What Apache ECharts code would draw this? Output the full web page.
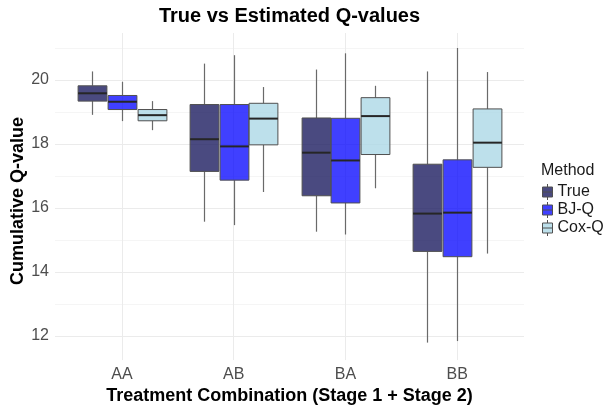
<!DOCTYPE html>
<html>
<head>
<meta charset="utf-8">
<title>True vs Estimated Q-values</title>
<script src="https://cdn.jsdelivr.net/npm/echarts@6/dist/echarts.min.js"></script>
<style>
  html, body { margin: 0; padding: 0; background: #fff; }
  #chart { width: 605px; height: 410px; }
</style>
</head>
<body>
<div id="chart"></div>
<script>
// data: [lower whisker, Q1, median, Q3, upper whisker] per treatment combination
const categories = ['AA', 'AB', 'BA', 'BB'];
const methods = ['True', 'BJ-Q', 'Cox-Q'];
const trueQ = [
  [18.85, 19.29, 19.54, 19.78, 20.24],
  [15.43, 17.04, 18.07, 19.18, 20.49],
  [15.11, 16.26, 17.64, 18.75, 20.30],
  [11.56, 14.48, 15.69, 17.27, 20.24]
];
const bjQ = [
  [18.65, 19.02, 19.27, 19.47, 19.91],
  [15.32, 16.76, 17.84, 19.18, 20.76],
  [15.02, 16.03, 17.39, 18.74, 20.82],
  [11.61, 14.31, 15.72, 17.41, 20.99]
];
const coxQ = [
  [18.36, 18.66, 18.84, 19.02, 19.29],
  [16.38, 17.89, 18.73, 19.22, 19.74],
  [16.50, 17.58, 18.81, 19.40, 19.78],
  [14.41, 17.17, 17.96, 19.04, 20.22]
];
const yLabels = [12, 14, 16, 18, 20];

const FONT = '"Liberation Sans", Arial, Helvetica, sans-serif';
const fills = ['rgba(29,29,96,0.8)', 'rgba(0,0,255,0.75)', 'rgba(173,216,230,0.8)'];

// little boxplot glyph for the legend keys (whisker stub, box, median, stub)
const keyIcon = 'path://M5,0L5,3M0,3L10,3L10,13L0,13ZM0,8L10,8M5,13L5,16';

const chart = echarts.init(document.getElementById('chart'));

function boxSeries(name, stats, idx) {
  return {
    name: name,
    type: 'custom',
    xAxisIndex: 1,
    yAxisIndex: 1,
    itemStyle: { color: fills[idx] },
    encode: { x: 0, y: [1, 2, 3, 4, 5] },
    data: stats.map((s, i) => [i].concat(s)),
    renderItem: function (params, api) {
      const band = api.size([1, 0])[0];
      const w = band * 0.8 / 3;          // dodge width of one box
      const cat = api.value(0);
      const cx = Math.round(api.coord([cat, 0])[0] + (idx - 1) * w) + 0.5;
      const hw = w / 2 - 0.5;
      const y = k => api.coord([cat, api.value(k)])[1];
      const lo = y(1), q1 = y(2), med = y(3), q3 = y(4), hi = y(5);
      const whisker = { stroke: '#6a6a6a', lineWidth: 1.2 };
      return {
        type: 'group',
        children: [
          { type: 'line', shape: { x1: cx, y1: hi, x2: cx, y2: q3 }, style: whisker },
          { type: 'line', shape: { x1: cx, y1: q1, x2: cx, y2: lo }, style: whisker },
          { type: 'rect', shape: { x: cx - hw, y: q3, width: hw * 2, height: q1 - q3 },
            style: { fill: fills[idx], stroke: '#505050', lineWidth: 1 } },
          { type: 'line', shape: { x1: cx - hw, y1: med, x2: cx + hw, y2: med },
            style: { stroke: '#262626', lineWidth: 2 } }
        ]
      };
    }
  };
}

const option = {
  animation: false,
  textStyle: { fontFamily: FONT },
  grid: [
    { left: 55, right: 81, top: 33, bottom: 42 },
    { left: 66, right: 92, top: 33, bottom: 42 }
  ],
  xAxis: [
    { gridIndex: 0, type: 'value', min: 0, max: 1, show: false },
    {
      gridIndex: 1,
      type: 'category',
      data: categories,
      axisLine: { show: false },
      axisTick: { show: false },
      axisLabel: { fontSize: 16, color: '#4d4d4d', margin: 6, fontFamily: FONT },
      splitLine: { show: true, alignWithLabel: true, lineStyle: { color: '#ebebeb', width: 1 } },
      name: 'Treatment Combination (Stage 1 + Stage 2)',
      nameLocation: 'middle',
      nameGap: 18,
      nameTextStyle: { fontSize: 18, fontWeight: 'bold', color: '#000', fontFamily: FONT }
    }
  ],
  yAxis: [
    {
      gridIndex: 0,
      type: 'value',
      min: 11,
      max: 21.47,
      interval: 1,
      axisLine: { show: false },
      axisTick: { show: false },
      axisLabel: {
        fontSize: 16, color: '#4d4d4d', margin: 6, fontFamily: FONT,
        formatter: v => (yLabels.indexOf(v) >= 0 ? String(v) : '')
      },
      splitLine: {
        show: true, showMinLine: false, showMaxLine: false,
        lineStyle: { color: ['#ebebeb', '#f5f5f5'], width: 1 }
      }
    },
    { gridIndex: 1, type: 'value', min: 11, max: 21.47, show: false }
  ],
  legend: {
    data: methods,
    orient: 'vertical',
    left: 542,
    top: 183,
    padding: 0,
    icon: keyIcon,
    itemWidth: 10,
    itemHeight: 16,
    itemGap: 0,
    itemStyle: { borderColor: '#505050', borderWidth: 1 },
    textStyle: { fontSize: 16, lineHeight: 18, color: '#1a1a1a', fontFamily: FONT, padding: [0, 0, 0, 0] }
  },
  graphic: [
    { type: 'text', x: 289.5, y: 16.3,
      style: { text: 'True vs Estimated Q-values', font: 'bold 20px ' + FONT,
               textAlign: 'center', textVerticalAlign: 'middle', fill: '#000' } },
    { type: 'text', x: 18.5, y: 201, rotation: Math.PI / 2,
      style: { text: 'Cumulative Q-value', font: 'bold 18px ' + FONT,
               textAlign: 'center', textVerticalAlign: 'middle', fill: '#000' } },
    { type: 'text', x: 541, y: 171,
      style: { text: 'Method', font: '16px ' + FONT,
               textAlign: 'left', textVerticalAlign: 'middle', fill: '#1a1a1a' } }
  ],
  series: [
    boxSeries(methods[0], trueQ, 0),
    boxSeries(methods[1], bjQ, 1),
    boxSeries(methods[2], coxQ, 2)
  ]
};

chart.setOption(option);
</script>
</body>
</html>
